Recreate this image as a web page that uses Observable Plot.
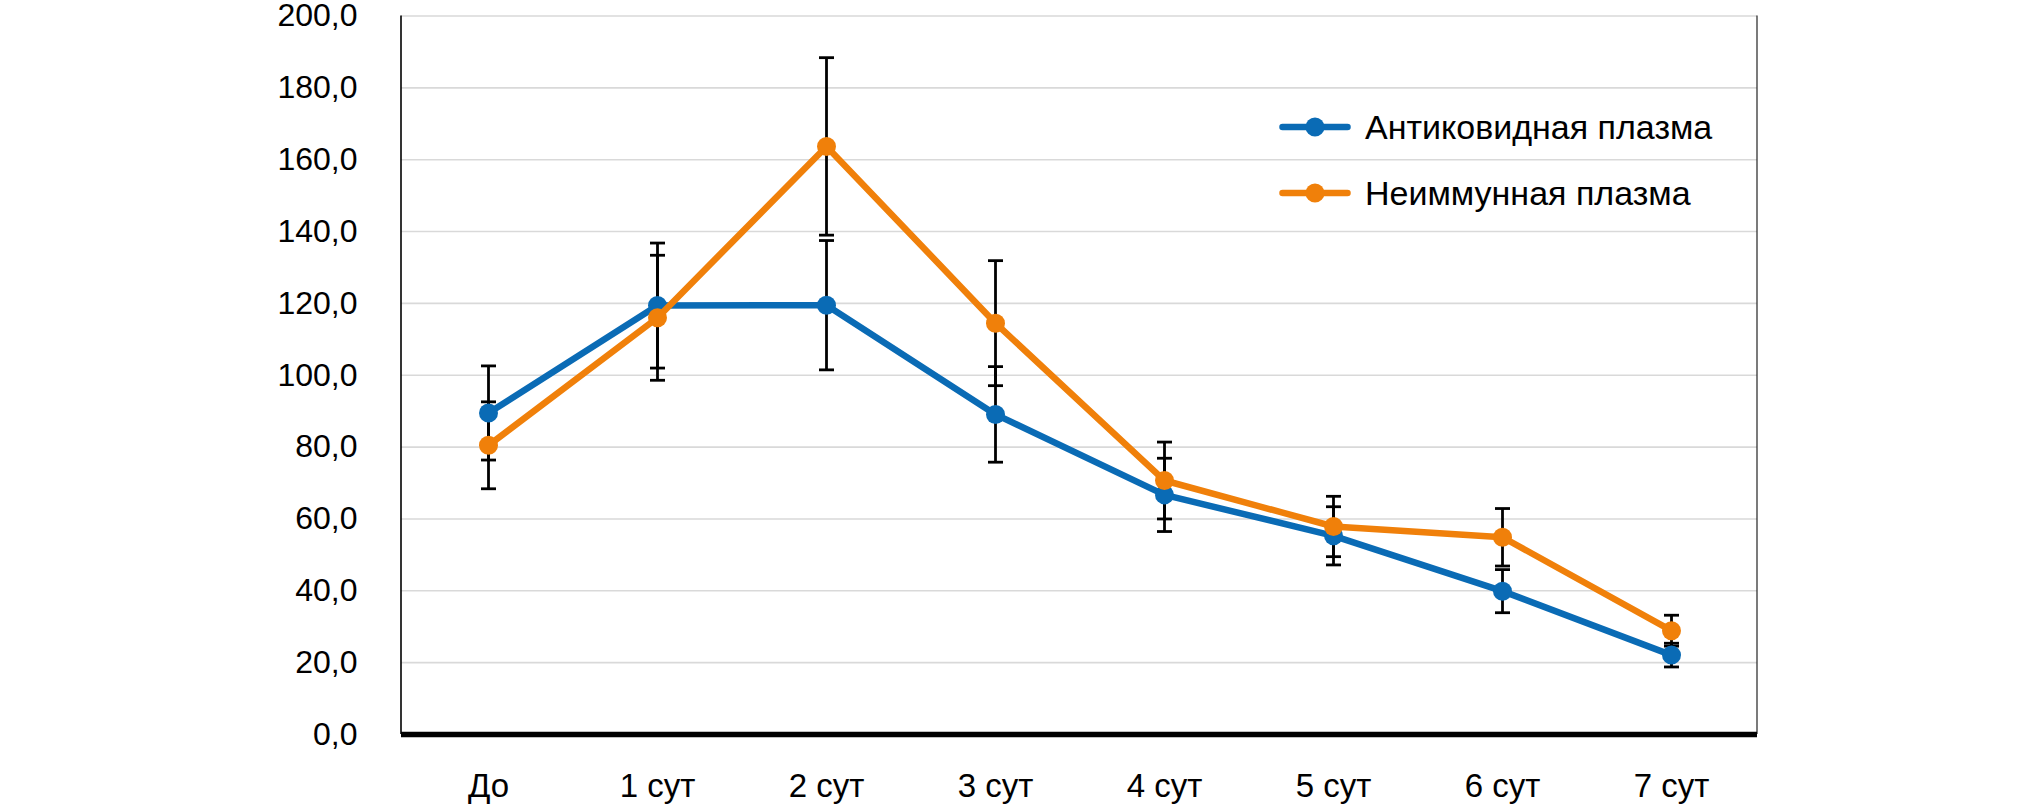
<!DOCTYPE html>
<html>
<head>
<meta charset="utf-8">
<script src="https://cdn.jsdelivr.net/npm/d3@7"></script>
<script src="https://cdn.jsdelivr.net/npm/@observablehq/plot@0.6"></script>
<style>
  html, body { margin: 0; padding: 0; background: #fff; }
  #wrap { position: relative; width: 2031px; height: 805px; font-family: "Liberation Sans", Arial, Helvetica, sans-serif; }
  #legend { position: absolute; left: 1279px; top: 104px; }
  .row { display: flex; align-items: center; height: 46px; margin-bottom: 20px; font-size: 34px; color: #000; }
  .row svg { margin-right: 14px; }
</style>
</head>
<body>
<div id="wrap"></div>
<script>
const categories = ["До", "1 сут", "2 сут", "3 сут", "4 сут", "5 сут", "6 сут", "7 сут"];
const seriesNames = ["Антиковидная плазма", "Неиммунная плазма"];
const antiValues = [89.5, 119.4, 119.5, 89.1, 66.7, 55.3, 39.9, 22.1];
const antiErr    = [13.1, 17.4, 18.0, 13.3, 10.2, 8.1, 6.0, 3.3];
const nonValues  = [80.5, 116.0, 163.7, 114.5, 70.7, 57.9, 54.9, 28.9];
const nonErr     = [12.1, 17.4, 24.7, 17.4, 10.7, 8.4, 8.0, 4.3];
const yTicks = [0, 20, 40, 60, 80, 100, 120, 140, 160, 180, 200];
const colors = ["#0a6bb5", "#f0800a"];

const rows = [];
categories.forEach((c, i) => {
  rows.push({cat: c, series: seriesNames[0], v: antiValues[i], e: antiErr[i]});
  rows.push({cat: c, series: seriesNames[1], v: nonValues[i], e: nonErr[i]});
});

const capSymbol = {
  draw(context, size) {
    const w = Math.sqrt(size / Math.PI);
    context.moveTo(-w, 0);
    context.lineTo(w, 0);
  }
};

const sideLines = (index, scales, values, dimensions) => {
  const {width, height, marginLeft, marginRight, marginTop, marginBottom} = dimensions;
  const g = d3.create("svg:g");
  g.append("line")
    .attr("x1", marginLeft).attr("x2", marginLeft)
    .attr("y1", marginTop).attr("y2", height - marginBottom)
    .attr("stroke", "#000").attr("stroke-width", 1.6);
  g.append("line")
    .attr("x1", width - marginRight).attr("x2", width - marginRight)
    .attr("y1", marginTop).attr("y2", height - marginBottom)
    .attr("stroke", "#222").attr("stroke-width", 1.2);
  return g.node();
};

const fmt = d => d.toFixed(1).replace(".", ",");

const chart = Plot.plot({
  width: 2031,
  height: 805,
  marginLeft: 401,
  marginRight: 274,
  marginTop: 15.5,
  marginBottom: 71,
  style: {fontFamily: "'Liberation Sans', Arial, Helvetica, sans-serif", color: "#000", background: "#fff"},
  x: {type: "point", domain: categories, padding: 0.5, label: null},
  y: {domain: [0, 200], label: null},
  color: {domain: seriesNames, range: colors},
  marks: [
    Plot.ruleY(yTicks.slice(1), {stroke: "#d9d9d9", strokeWidth: 1.6}),
    Plot.axisY({ticks: yTicks, tickFormat: fmt, tickSize: 0, tickPadding: 44, fontSize: 32, label: null}),
    Plot.axisX({tickSize: 0, tickPadding: 39, fontSize: 33, label: null}),
    sideLines,
    Plot.ruleX(rows, {x: "cat", y1: d => d.v - d.e, y2: d => d.v + d.e, stroke: "#000", strokeWidth: 2.8}),
    Plot.dot(rows, {x: "cat", y: d => d.v + d.e, symbol: capSymbol, r: 7.5, stroke: "#000", strokeWidth: 2.8, fill: "none"}),
    Plot.dot(rows, {x: "cat", y: d => d.v - d.e, symbol: capSymbol, r: 7.5, stroke: "#000", strokeWidth: 2.8, fill: "none"}),
    Plot.ruleY([0], {stroke: "#000", strokeWidth: 5.3}),
    Plot.line(rows.filter(d => d.series === seriesNames[0]), {x: "cat", y: "v", stroke: colors[0], strokeWidth: 6.5}),
    Plot.dot(rows.filter(d => d.series === seriesNames[0]), {x: "cat", y: "v", r: 9.5, fill: colors[0]}),
    Plot.line(rows.filter(d => d.series === seriesNames[1]), {x: "cat", y: "v", stroke: colors[1], strokeWidth: 6.5}),
    Plot.dot(rows.filter(d => d.series === seriesNames[1]), {x: "cat", y: "v", r: 9.5, fill: colors[1]})
  ]
});

const wrap = document.getElementById("wrap");
wrap.appendChild(chart);

const legend = document.createElement("div");
legend.id = "legend";
seriesNames.forEach((name, i) => {
  const row = document.createElement("div");
  row.className = "row";
  row.innerHTML = `<svg width="72" height="24" viewBox="0 0 72 24"><line x1="3.5" y1="12" x2="68.5" y2="12" stroke="${colors[i]}" stroke-width="6.5" stroke-linecap="round"/><circle cx="36" cy="12" r="9.5" fill="${colors[i]}"/></svg><span>${name}</span>`;
  legend.appendChild(row);
});
wrap.appendChild(legend);
</script>
</body>
</html>
